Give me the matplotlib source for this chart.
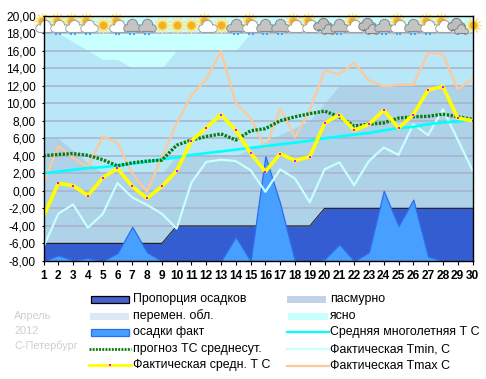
"""April 2012 St. Petersburg weather chart."""

import matplotlib

matplotlib.use("Agg")

import matplotlib.pyplot as plt
from matplotlib.lines import Line2D
from matplotlib.patches import Rectangle

plt.rcParams["font.family"] = ["Liberation Sans", "DejaVu Sans"]

WIDTH, HEIGHT = 486, 379

days = list(range(1, 31))
precip_share = [-6] * 9 + [-4] * 10 + [-2] * 11
precip_fact = [-8, -7.35, -7.9, -7.65, -8, -7.1, -4.1, -7, -8, -8,
               -8, -8, -8, -5.25, -8, 3.95, -1.45, -8, -8, -7.8,
               -6.1, -8, -7, 0, -4, -1, -7.5, -8, -8, -8]
overcast_top = [6, 6, 4.6, 3.2, 2, 2, 2, 2, 2, 4,
                4, 4, 4, 4, 4.8, 5.6, 6.4, 7.2, 8, 10,
                12, 12, 12, 12, 12, 12, 12, 12, 12, 12]
variable_top = [18, 18, 17, 16, 15, 15, 14, 14, 14, 16,
                16, 16, 16, 16, 18, 18, 18, 18, 18, 18,
                18, 18, 18, 18, 18, 18, 18, 18, 18, 18]
climate_mean = [2.0, 2.2, 2.4, 2.6, 2.7, 2.9, 3.1, 3.3, 3.6, 3.8,
                4.1, 4.3, 4.5, 4.7, 4.9, 5.1, 5.3, 5.5, 5.7, 6.0,
                6.2, 6.4, 6.6, 6.9, 7.15, 7.3, 7.6, 7.8, 7.9, 8.15]
forecast = [4.0, 4.15, 4.25, 4.05, 3.55, 2.85, 3.2, 3.4, 3.5, 5.2,
            5.8, 6.2, 6.5, 5.8, 6.85, 7.1, 8.0, 8.45, 8.8, 9.1,
            8.45, 7.4, 7.6, 7.75, 8.3, 8.45, 8.5, 8.75, 8.45, 8.15]
t_mean = [-2.9, 0.85, 0.6, -0.55, 1.5, 2.55, 0.5, -0.85, 0.5, 2.3,
          5.7, 7.2, 8.7, 6.9, 4.3, 2.2, 4.25, 3.45, 3.9, 7.7,
          8.7, 6.9, 7.6, 9.2, 7.15, 8.7, 11.5, 11.9, 8.3, 8.0]
t_min = [-6.4, -2.6, -1.55, -4.2, -2.65, 0.9, -0.75, -1.6, -2.6, -4.3,
         0.95, 3.3, 3.55, 3.4, 2.35, -0.1, 2.45, 1.4, -1.3, 2.45,
         3.25, 0.65, 3.4, 4.95, 4.1, 7.6, 6.35, 9.3, 5.85, 2.35]
t_max = [0.8, 5.1, 3.8, 2.7, 6.2, 5.5, 2.0, -0.1, 3.8, 7.7,
         10.9, 12.7, 15.9, 10.0, 8.3, 4.9, 9.4, 6.1, 9.2, 13.7,
         13.3, 14.6, 12.6, 11.9, 12.1, 12.1, 15.75, 15.6, 11.6, 12.75]
# s = sun, p = partly cloudy, c = cloudy, d = double cloud; r = rain drops
icons = ["p", "pr", "pr", "pr", "s", "pr", "cr", "cr", "s", "s",
         "s", "p", "s", "cr", "pr", "cr", "cr", "p", "p", "d",
         "cr", "p", "d", "cr", "pr", "cr", "pr", "p", "d", "s"]
y_ticks = list(range(-8, 21, 2))
legend_left = ["Пропорция осадков", "перемен. обл.", "осадки факт",
               "прогноз ТС среднесут.", "Фактическая средн. Т С"]
legend_right = ["пасмурно", "ясно", "Средняя многолетняя Т С",
                "Фактическая Tmin, С", "Фактическая Tmax С"]
caption = ["Апрель", "2012", "С-Петербург"]

CLEAR = "#C8FFFF"
VARIABLE = "#B8E8F7"
OVERCAST = "#AED2E7"
SHARE = "#2F58D2"
FACT = "#47A0FF"
FACT_EDGE = "#2F6BEE"
GRID = "#A9B1CB"
GREEN = "#0A7A0A"
YELLOW = "#FFFF00"
MAGENTA = "#FF00FF"
CYAN = "#00FFFF"
TMIN = "#C8FFFF"
TMAX = "#FFC89A"


def px(x, y):
    return x / WIDTH, 1 - y / HEIGHT


def draw_sun(ax, x, y):
    ax.scatter([x], [y], s=120, marker=(12, 2, 0), color="#FFE48A", linewidths=0.9,
               clip_on=False, zorder=8)
    ax.scatter([x], [y], s=50, marker="o", color="#FFD75E", lw=0, clip_on=False, zorder=8)
    ax.scatter([x], [y], s=28, marker="o", color="#F0B020", lw=0, clip_on=False, zorder=8)


def draw_cloud(ax, x, y, face, edge, scale=1.0):
    # lobes of the cloud, offsets in days and temperature units
    lobes = [(-0.36, -0.3, 28), (0.36, -0.3, 28), (0.0, 0.12, 54)]
    for dx, dy, size in lobes:
        ax.scatter([x + dx * scale], [y + dy * scale], s=size * scale ** 2, color=face,
                   edgecolors=edge, linewidths=0.8, clip_on=False, zorder=9)
    for dx, dy, size in lobes:
        ax.scatter([x + dx * scale], [y + dy * scale], s=size * scale ** 2 * 0.7, color=face,
                   lw=0, clip_on=False, zorder=9)
    ax.add_patch(Rectangle((x - 0.36 * scale, y - 0.66 * scale), 0.72 * scale, 0.64 * scale,
                           facecolor=face, edgecolor="none", clip_on=False, zorder=9))
    ax.plot([x - 0.36 * scale, x + 0.36 * scale], [y - 0.68 * scale] * 2, color=edge, lw=0.8,
            clip_on=False, zorder=9)


def draw_icon(ax, day, code):
    y = 18.95
    if code[0] == "s":
        draw_sun(ax, day, y)
    elif code[0] == "p":
        draw_sun(ax, day - 0.12, y + 0.45)
        draw_cloud(ax, day + 0.08, y - 0.12, "#FFFFFF", "#A0A0A0")
    elif code[0] == "c":
        draw_cloud(ax, day, y - 0.05, "#C4C4C4", "#8C8C8C")
    else:
        draw_cloud(ax, day - 0.12, y + 0.12, "#BDBDBD", "#808080")
        draw_cloud(ax, day + 0.2, y - 0.45, "#C8C8C8", "#808080", 0.75)
    if code.endswith("r"):
        ax.scatter([day - 0.13, day + 0.13], [17.85, 17.85], s=3, marker="s",
                   color="#3FA6EE", lw=0, clip_on=False, zorder=7)


fig = plt.figure(figsize=(WIDTH / 100, HEIGHT / 100), dpi=100)
left, top = px(43.5, 15.5)
right, bottom = px(472.5, 261)
ax = fig.add_axes([left, bottom, right - left, top - bottom])
ax.set_facecolor(CLEAR)

ax.fill_between(days, -8, variable_top, color=VARIABLE, lw=0, zorder=1)
ax.fill_between(days, -8, overcast_top, color=OVERCAST, lw=0, zorder=1.1)
for tick in y_ticks[1:-1]:
    ax.axhline(tick, color=GRID, lw=1.1, zorder=1.5)
ax.fill_between(days, -8, precip_share, color=SHARE, alpha=0.96, lw=0, zorder=2)
ax.plot(days, precip_share, color="#222222", lw=0.8, zorder=2.1)
ax.fill_between(days, -8, precip_fact, facecolor=FACT, edgecolor=FACT_EDGE, lw=0.9, zorder=2.2)

ax.plot(days, t_max, color=TMAX, lw=1.6, zorder=3)
ax.plot(days, t_min, color=TMIN, lw=1.6, zorder=3.1)
ax.plot(days, climate_mean, color=CYAN, lw=1.9, zorder=3.2)
ax.plot(days, forecast, color=GREEN, lw=2.4, linestyle=(0, (0.7, 0.45)), zorder=3.3)
ax.plot(days, t_mean, color=YELLOW, lw=2.6, zorder=3.4, marker="s", markersize=1.8,
        markerfacecolor=MAGENTA, markeredgecolor=MAGENTA, markeredgewidth=0)

for day, code in zip(days, icons):
    draw_icon(ax, day, code)

ax.set_xlim(1, 30)
ax.set_ylim(-8, 20)
ax.set_xticks(days)
ax.set_xticklabels([str(d) for d in days], fontsize=8.6, fontweight="bold")
ax.set_yticks(y_ticks)
ax.set_yticklabels([f"{t},00" for t in y_ticks], fontsize=8.6)
ax.tick_params(axis="x", length=3.2, width=0.8, pad=3.5)
ax.tick_params(axis="y", length=1.5, width=0.8, pad=4)
for spine in ax.spines.values():
    spine.set_linewidth(1.0)
    spine.set_zorder(10)

# legend, placed by hand in pixel coordinates
left_rows = [299, 316, 332, 349, 365]
right_rows = [299, 316, 332, 349, 366]


def add_box(x0, x1, y, face, edge=None):
    fx0, fy0 = px(x0, y + 3.5)
    fx1, fy1 = px(x1, y - 3.5)
    fig.add_artist(Rectangle((fx0, fy0), fx1 - fx0, fy1 - fy0, transform=fig.transFigure,
                             facecolor=face, edgecolor=edge or face, linewidth=0.9 if edge else 0))


def add_line(x0, x1, y, **style):
    fx0, fy = px(x0, y)
    fx1, _ = px(x1, y)
    fig.add_artist(Line2D([fx0, fx1], [fy, fy], transform=fig.transFigure, **style))


add_box(91, 129, left_rows[0], "#4660CE", "#000000")
add_box(90, 129, left_rows[1], "#DCE8F6")
add_box(91, 129, left_rows[2], FACT, FACT_EDGE)
add_line(89, 131, left_rows[3], color=GREEN, lw=2.0, linestyle=(0, (0.7, 0.45)))
add_line(89, 131, left_rows[4], color=YELLOW, lw=2.0)
fx, fy = px(110, left_rows[4])
fig.add_artist(Line2D([fx], [fy], transform=fig.transFigure, marker="s", markersize=1.8,
                      markerfacecolor=MAGENTA, markeredgewidth=0, linestyle="none"))
add_box(287, 326, right_rows[0], "#C2D2E8")
add_box(288, 328, right_rows[1], CLEAR)
add_line(287, 329, right_rows[2], color=CYAN, lw=1.6)
add_line(287, 329, right_rows[3], color=TMIN, lw=1.6)
add_line(287, 329, right_rows[4], color=TMAX, lw=1.6)

for label, row in zip(legend_left, left_rows):
    fx, fy = px(133, row)
    fig.text(fx, fy, label, fontsize=8.9, va="center", ha="left", color="black")
for label, row in zip(legend_right, right_rows):
    fx, fy = px(330, row)
    fig.text(fx, fy, label, fontsize=8.9, va="center", ha="left", color="black")
for label, row in zip(caption, [316, 331, 346]):
    fx, fy = px(14, row)
    fig.text(fx, fy, label, fontsize=7.9, va="center", ha="left", color="#CFCFCF")

fig.savefig("out.png", dpi=100)
plt.close(fig)
